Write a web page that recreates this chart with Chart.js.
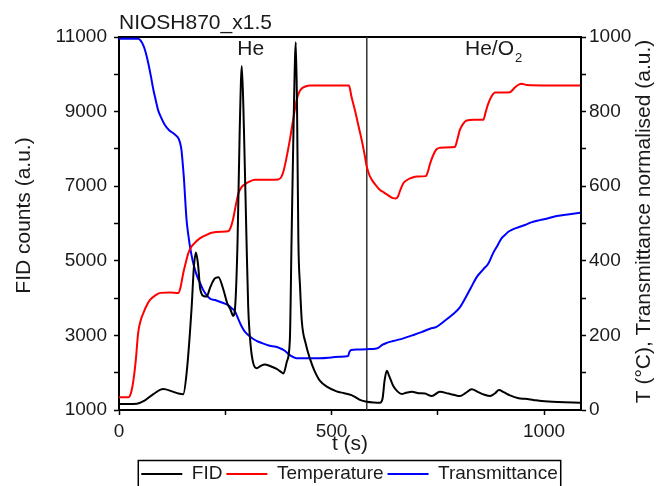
<!DOCTYPE html>
<html>
<head>
<meta charset="utf-8">
<script src="https://cdn.jsdelivr.net/npm/chart.js@4.4.1/dist/chart.umd.min.js"></script>
<style>
  html, body { margin: 0; padding: 0; background: #fff; }
</style>
</head>
<body>
<canvas id="chart" width="659" height="486"></canvas>
<script>
// FID signal (left axis)
const fidTime = [0, 20, 42, 60, 80, 104, 125, 140, 151, 159, 171, 176, 181, 186, 191, 200, 206, 215, 225, 234, 245, 255, 262, 269,
  274, 279, 284, 289, 294, 300, 304, 310, 316, 324, 333, 343, 355, 371, 380, 387, 395, 402, 406, 411, 416, 419, 422, 426, 430,
  440, 450, 460, 473, 490, 512, 530, 547, 557, 567, 583, 600, 614, 620, 625, 630, 636, 645, 655, 665, 675, 689, 705, 720, 736,
  755, 775, 790, 802, 815, 830, 845, 860, 873, 885, 894, 905, 920, 940, 955, 975, 995, 1034, 1085];
const fidCounts = [1160, 1160, 1170, 1250, 1420, 1560, 1500, 1440, 1420, 1980, 3770, 4800, 5220, 4900, 4250, 4050, 4040, 4300, 4520, 4560, 4250, 3850, 3700, 3520,
  3900, 5560, 8500, 10220, 8500, 5560, 3770, 2700, 2250, 2120, 2180, 2220, 2180, 2100, 2030, 1980, 2300, 2880, 5560, 8800, 10860, 9000, 5560, 4300, 3400,
  2750, 2350, 2050, 1780, 1620, 1500, 1450, 1400, 1340, 1270, 1220, 1200, 1195, 1300, 1800, 2050, 1900, 1650, 1500, 1430, 1460, 1490, 1450, 1440, 1375,
  1490, 1440, 1400, 1375, 1450, 1555, 1480, 1410, 1375, 1450, 1536, 1480, 1390, 1313, 1300, 1270, 1241, 1214, 1196];

// Temperature (right axis)
const tempTime = [0, 22, 28, 34, 40, 45, 51, 57, 65, 73, 85, 97, 120, 140, 145, 151, 157, 163, 170, 175, 190, 205, 218, 240, 257, 263,
  269, 275, 281, 288, 296, 308, 320, 350, 375, 382, 387, 393, 402, 410, 418, 424, 430, 440, 449, 500, 541, 547, 555, 563, 571,
  577, 583, 589, 595, 604, 614, 622, 630, 638, 645, 651, 656, 662, 669, 677, 685, 700, 722, 727, 732, 740, 747, 755, 767, 790,
  796, 802, 810, 818, 835, 857, 863, 869, 876, 885, 905, 920, 926, 932, 940, 947, 960, 1000, 1085];
const tempValues = [34, 34, 45, 80, 140, 206, 240, 259, 280, 295, 307, 314, 315, 314, 330, 366, 395, 420, 437, 444, 460, 469, 475, 478, 479, 490,
  515, 550, 581, 597, 605, 613, 617, 617, 618, 625, 640, 670, 724, 780, 831, 852, 862, 868, 870, 870, 870, 840, 804, 764, 724,
  690, 652, 630, 617, 603, 590, 584, 578, 572, 568, 567, 572, 590, 608, 616, 621, 626, 627, 640, 661, 685, 699, 703, 704, 705,
  725, 751, 768, 776, 778, 778, 800, 822, 840, 851, 851, 852, 858, 865, 872, 875, 871, 870, 870];

// Transmittance normalised (right axis)
const transTime = [0, 45, 51, 57, 63, 69, 75, 81, 87, 92, 100, 108, 118, 128, 135, 140, 144, 147, 150, 153, 156, 159, 163, 167, 173,
  179, 185, 191, 198, 206, 215, 226, 240, 257, 265, 273, 281, 289, 296, 304, 315, 328, 345, 355, 367, 380, 387, 395, 402, 410,
  418, 440, 473, 500, 520, 539, 542, 546, 560, 583, 606, 612, 620, 630, 645, 669, 690, 710, 732, 747, 765, 785, 802, 815, 828,
  842, 857, 869, 880, 890, 900, 908, 916, 924, 940, 955, 970, 990, 1010, 1030, 1060, 1085];
const transValues = [995, 995, 990, 978, 958, 929, 895, 858, 828, 804, 782, 764, 750, 742, 735, 728, 715, 697, 660, 617, 560, 509, 470, 438, 402,
  375, 355, 340, 322, 308, 298, 295, 289, 281, 273, 264, 243, 223, 210, 201, 191, 183, 176, 172, 170, 165, 161, 154, 147, 142,
  139, 139, 139, 141, 143, 145, 155, 161, 162, 163, 165, 168, 175, 180, 185, 192, 200, 208, 218, 223, 238, 256, 275, 300, 328,
  357, 377, 393, 420, 440, 460, 469, 478, 483, 490, 496, 503, 509, 514, 520, 525, 529];

// axes
const X_MAX = 1087;
const xTicks = [0, 250, 500, 750, 1000];
const xLabels = [0, 500, 1000];
const yTicks = [1000, 2000, 3000, 4000, 5000, 6000, 7000, 8000, 9000, 10000, 11000];
const yLabels = [1000, 3000, 5000, 7000, 9000, 11000];
const y2Ticks = [0, 100, 200, 300, 400, 500, 600, 700, 800, 900, 1000];
const y2Labels = [0, 200, 400, 600, 800, 1000];
const gasSwitchTime = 583;

const FONT = '"Liberation Sans", Arial, sans-serif';
const INK = '#1a1a1a';
const LEGEND_SHIFT = 20;

const pts = (xs, ys) => xs.map((x, i) => ({ x: x, y: ys[i] }));

function axisStyle(extra) {
  return Object.assign({
    type: 'linear',
    border: { color: '#000', width: 2 },
    grid: { drawOnChartArea: false, drawTicks: true, tickLength: 5, tickWidth: 1.5, tickColor: '#000' }
  }, extra);
}

const decor = {
  id: 'decor',
  afterLayout(chart) {
    chart.legend.left += LEGEND_SHIFT;
    chart.legend.right += LEGEND_SHIFT;
  },
  afterDraw(chart) {
    const { ctx, chartArea: a, scales } = chart;
    ctx.save();
    ctx.fillStyle = INK;
    ctx.textBaseline = 'middle';
    ctx.font = '21px ' + FONT;
    ctx.textAlign = 'center';

    // rotated axis titles (both read bottom to top)
    const mid = (a.top + a.bottom) / 2;
    [['FID counts (a.u.)', 24.4, mid - 8], ['T (\u00b0C), Transmittance normalised (a.u.)', 644.5, mid - 2]].forEach(([t, x, y]) => {
      ctx.save();
      ctx.translate(x, y);
      ctx.rotate(-Math.PI / 2);
      ctx.fillText(t, 0, 0);
      ctx.restore();
    });

    // gas labels
    ctx.fillText('He', scales.x.getPixelForValue(310), scales.y.getPixelForValue(10680));
    ctx.textAlign = 'left';
    const hx = scales.x.getPixelForValue(814);
    const hy = scales.y.getPixelForValue(10680);
    ctx.fillText('He/O', hx, hy);
    const w = ctx.measureText('He/O').width;
    ctx.font = '13px ' + FONT;
    ctx.fillText('2', hx + w + 1, hy + 9);

    // frame round the legend
    const lg = chart.legend;
    const pad = lg.options.labels.padding;
    const fs = lg.options.labels.font.size;
    const x0 = (lg.left + pad + lg.right - lg.lineWidths[0]) / 2;
    const cy = lg.top + pad + fs / 2;
    ctx.strokeStyle = '#000';
    ctx.lineWidth = 1.5;
    ctx.strokeRect(x0 - 3, cy - 13.5, lg.lineWidths[0] - pad + 6, 30);
    ctx.restore();
  }
};

new Chart(document.getElementById('chart'), {
  type: 'line',
  data: {
    datasets: [
      { label: 'FID', data: pts(fidTime, fidCounts), borderColor: '#000', backgroundColor: '#000', borderWidth: 2, yAxisID: 'y' },
      { label: 'Temperature', data: pts(tempTime, tempValues), borderColor: '#ff0000', backgroundColor: '#ff0000', borderWidth: 2, yAxisID: 'y2' },
      { label: 'Transmittance', data: pts(transTime, transValues), borderColor: '#0000ff', backgroundColor: '#0000ff', borderWidth: 2, yAxisID: 'y2' },
      { label: '', data: [{ x: gasSwitchTime, y: 1000 }, { x: gasSwitchTime, y: 11000 }], borderColor: '#333', borderWidth: 1.5, yAxisID: 'y', cubicInterpolationMode: 'default', tension: 0 }
    ]
  },
  options: {
    responsive: false,
    animation: false,
    elements: {
      point: { radius: 0 },
      line: { borderWidth: 2, cubicInterpolationMode: 'monotone' }
    },
    layout: { padding: { left: 0, right: 0, top: 0, bottom: -7.5 } },
    plugins: {
      tooltip: { enabled: false },
      legend: {
        position: 'bottom',
        labels: {
          usePointStyle: true, pointStyle: 'line', pointStyleWidth: 41,
          padding: 4, color: INK, font: { family: FONT, size: 19 },
          filter: item => item.text !== ''
        }
      }
    },
    scales: {
      x: axisStyle({
        position: 'bottom', min: 0, max: X_MAX,
        afterBuildTicks: s => { s.ticks = xTicks.map(v => ({ value: v })); },
        afterFit: s => { s.height = 50.5; },
        ticks: { padding: 5, color: INK, maxRotation: 0, autoSkip: false, font: { family: FONT, size: 19 },
          callback: v => xLabels.includes(v) ? String(v) : '' },
        title: { display: true, text: 't (s)', color: INK, font: { family: FONT, size: 21, lineHeight: 1 }, padding: { top: 0, bottom: 6 } }
      }),
      x2: axisStyle({
        position: 'top', min: 0, max: X_MAX,
        afterFit: s => { s.height = 37; },
        grid: { drawOnChartArea: false, drawTicks: false },
        ticks: { display: false },
        title: { display: true, text: 'NIOSH870_x1.5', align: 'start', color: INK, font: { family: FONT, size: 21 }, padding: { top: 10.7, bottom: 0 } }
      }),
      y: axisStyle({
        position: 'left', min: 1000, max: 11000,
        afterBuildTicks: s => { s.ticks = yTicks.map(v => ({ value: v })); },
        afterFit: s => { s.width = 119; },
        ticks: { padding: 7, color: INK, autoSkip: false, font: { family: FONT, size: 19 },
          callback: v => yLabels.includes(v) ? String(v) : '' }
      }),
      y2: axisStyle({
        position: 'right', min: 0, max: 1000,
        afterBuildTicks: s => { s.ticks = y2Ticks.map(v => ({ value: v })); },
        afterFit: s => { s.width = 78; },
        ticks: { padding: 3, color: INK, autoSkip: false, font: { family: FONT, size: 19 },
          callback: v => y2Labels.includes(v) ? String(v) : '' }
      })
    }
  },
  plugins: [decor]
});
</script>
</body>
</html>
